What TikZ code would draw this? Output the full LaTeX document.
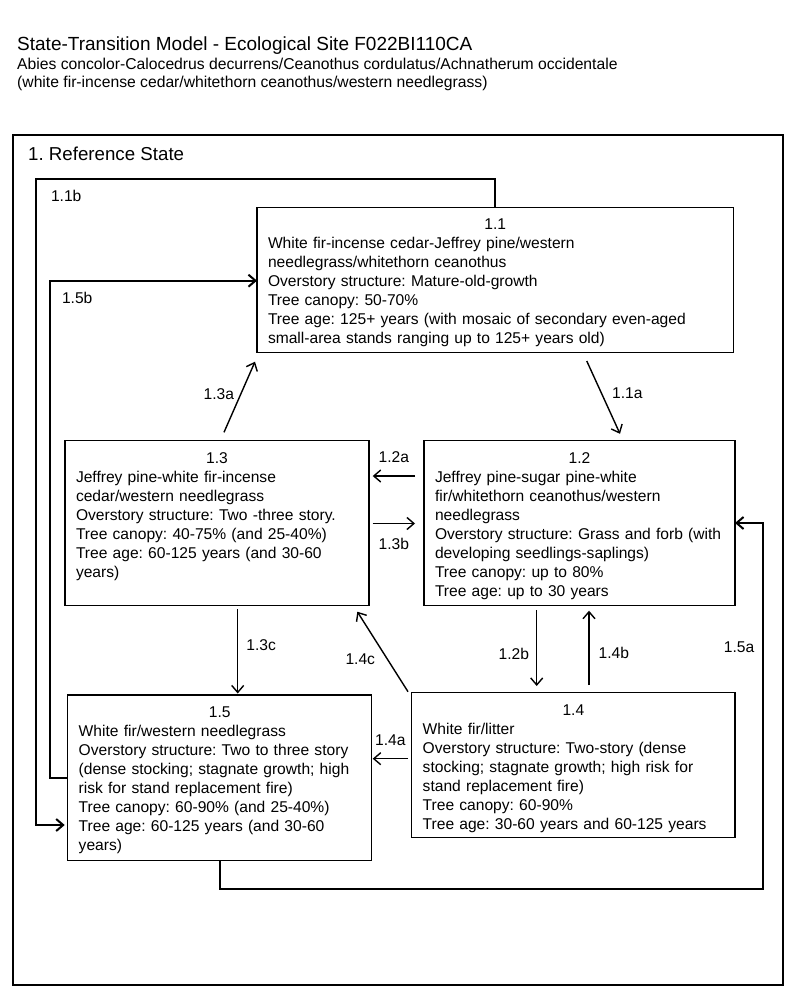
\documentclass[tikz,border=0pt]{standalone}
\usepackage{fontspec}
\setmainfont{Liberation Sans}
\usetikzlibrary{arrows.meta}
\usetikzlibrary{calc}

\frenchspacing
\newcommand{\bodyfont}{\fontsize{15.6}{19}\selectfont}
\newcommand{\statenum}[1]{\makebox[\linewidth]{#1}\\}

\begin{document}
\begin{tikzpicture}[x=1pt,y=-1pt,%
  statebox/.style={draw,line width=1.3pt,anchor=north west,inner xsep=11pt,%
    inner ysep=0pt,outer sep=0pt,text height=22.6pt,align=left,font=\bodyfont},%
  arr/.style={-{Straight Barb[length=7pt,width=12pt]},line width=1.4pt},%
  loopline/.style={arr,line width=2pt},%
  lbl/.style={font=\bodyfont,inner sep=2pt}]
  \useasboundingbox (0,0) rectangle (800,1003);

  \node[anchor=base west,inner sep=0pt,font=\fontsize{19}{23}\selectfont] (title) at (17,51)
    {State-Transition Model - Ecological Site F022BI110CA};
  \node[anchor=base west,inner sep=0pt,font=\fontsize{15.7}{19}\selectfont] (sub1) at (17,70)
    {Abies concolor-Calocedrus decurrens/Ceanothus cordulatus/Achnatherum occidentale};
  \node[anchor=base west,inner sep=0pt,font=\fontsize{15.7}{19}\selectfont] (sub2) at (17,88)
    {(white fir-incense cedar/whitethorn ceanothus/western needlegrass)};

  \draw[line width=2.3pt] (13,135) rectangle (783,985);
  \node[anchor=base west,inner sep=0pt,font=\fontsize{18.7}{22}\selectfont] (refstate) at (28,160.7)
    {1. Reference State};

  \node[statebox,text width=454.5pt,text depth=122.8pt] (s11) at (257,207.3)
    {\statenum{1.1}White fir-incense cedar-Jeffrey pine/western\\
     needlegrass/whitethorn ceanothus\\
     Overstory structure: Mature-old-growth\\
     Tree canopy: 50-70\%\\
     Tree age: 125+ years (with mosaic of secondary even-aged\\
     small-area stands ranging up to 125+ years old)};
  \node[statebox,text width=289pt,text depth=142.4pt] (s12) at (424,440.5)
    {\statenum{1.2}Jeffrey pine-sugar pine-white\\
     fir/whitethorn ceanothus/western\\
     needlegrass\\
     Overstory structure: Grass and forb (with\\
     developing seedlings-saplings)\\
     Tree canopy: up to 80\%\\
     Tree age: up to 30 years};
  \node[statebox,text width=282pt,text depth=142.4pt] (s13) at (65,440.5)
    {\statenum{1.3}Jeffrey pine-white fir-incense\\
     cedar/western needlegrass\\
     Overstory structure: Two -three story.\\
     Tree canopy: 40-75\% (and 25-40\%)\\
     Tree age: 60-125 years (and 30-60\\
     years)};
  \node[statebox,text width=301.3pt,text depth=122.4pt] (s14) at (411.7,692.7)
    {\statenum{1.4}White fir/litter\\
     Overstory structure: Two-story (dense\\
     stocking; stagnate growth; high risk for\\
     stand replacement fire)\\
     Tree canopy: 60-90\%\\
     Tree age: 30-60 years and 60-125 years};
  \node[statebox,text width=282pt,text depth=143.1pt] (s15) at (67.7,695)
    {\statenum{1.5}White fir/western needlegrass\\
     Overstory structure: Two to three story\\
     (dense stocking; stagnate growth; high\\
     risk for stand replacement fire)\\
     Tree canopy: 60-90\% (and 25-40\%)\\
     Tree age: 60-125 years (and 30-60\\
     years)};

  \coordinate (c11b) at (36,179);
  \coordinate (c15b) at (50,280.7);
  \coordinate (c15a) at (763.3,889);

  \draw[loopline,shorten >=3pt] (s11.north) |- (c11b)
    node[lbl,anchor=north west,xshift=12pt,yshift=-8pt] {1.1b}
    |- ($(s15.south west)+(0,-35.7)$);
  \draw[loopline] ($(s15.north west)+(0,82.7)$) -| (c15b)
    node[lbl,anchor=north west,xshift=9pt,yshift=-8.7pt] {1.5b}
    -- (c15b -| s11.west);
  \draw[loopline] (s15.south) |- (c15a) |- node[lbl,pos=.33,left=6pt] {1.5a} (s12.east);

  \draw[arr] ($(s11.south)+(91.5,8.3)$) -- node[lbl,pos=.44,right=8pt] {1.1a}
    ($(s12.north)+(40.5,-6.7)$);
  \draw[arr] ($(s13.north)+(7,-8.2)$) -- node[lbl,pos=.54,left=4pt] {1.3a}
    ($(s11.south west)+(-2,9)$);
  \draw[arr] ($(s12.north west)+(-9,35.5)$) -- node[lbl,above=11pt] {1.2a}
    ($(s13.north east)+(3.7,35.5)$);
  \draw[arr] ($(s13.north east)+(3.7,83)$) -- node[lbl,below=12pt] {1.3b}
    ($(s12.north west)+(-9,83)$);
  \draw[arr] ($(s13.south west)+(172.7,3.5)$) -- node[lbl,pos=.43,right=6pt] {1.3c}
    ($(s15.north west)+(170,-1.5)$);
  \draw[arr] ($(s12.south west)+(112.7,4.5)$) -- node[lbl,pos=.58,left=5pt] {1.2b}
    ($(s14.north west)+(125,-6.7)$);
  \draw[arr] ($(s14.north west)+(177.3,-7.7)$) -- node[lbl,pos=.43,right=7pt] {1.4b}
    ($(s12.south west)+(165,5.2)$);
  \draw[arr] ($(s14.north west)+(-3.7,-1)$) -- node[lbl,pos=.4,left=10pt] {1.4c}
    ($(s13.south east)+(-11.7,6.2)$);
  \draw[arr] ($(s14.north west)+(-3.7,66)$) -- node[lbl,above=10pt] {1.4a}
    ($(s15.north east)+(1,63.7)$);
\end{tikzpicture}
\end{document}
